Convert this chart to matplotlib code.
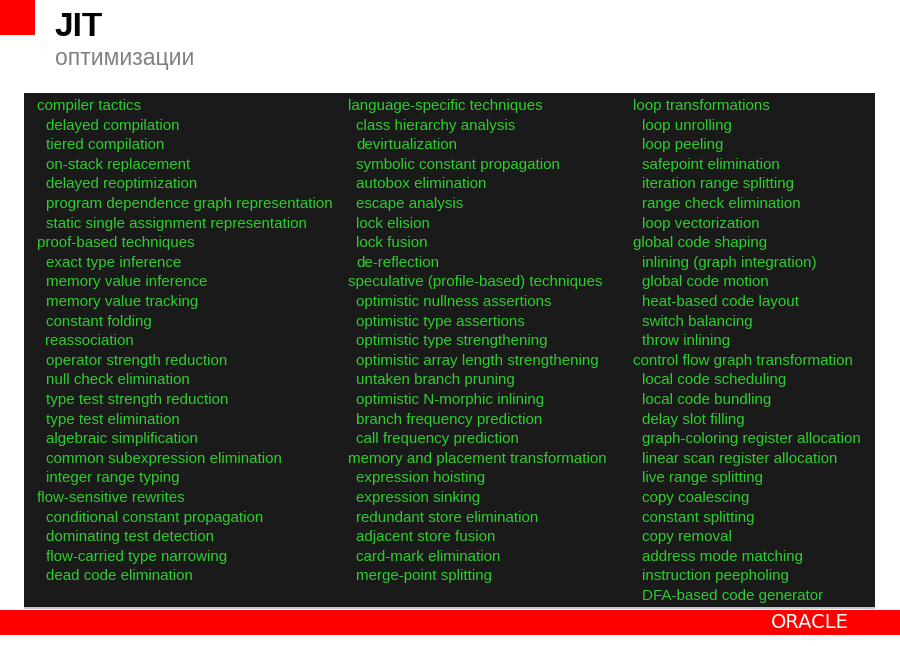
import matplotlib.pyplot as plt
from matplotlib.patches import Rectangle

plt.rcParams['font.family'] = ['Liberation Sans', 'DejaVu Sans']

title = "JIT"
subtitle = "оптимизации"

# (indent level, text) per column
col1 = [
    (0, "compiler tactics"),
    (1, "delayed compilation"),
    (1, "tiered compilation"),
    (1, "on-stack replacement"),
    (1, "delayed reoptimization"),
    (1, "program dependence graph representation"),
    (1, "static single assignment representation"),
    (0, "proof-based techniques"),
    (1, "exact type inference"),
    (1, "memory value inference"),
    (1, "memory value tracking"),
    (1, "constant folding"),
    (1, "reassociation"),
    (1, "operator strength reduction"),
    (1, "null check elimination"),
    (1, "type test strength reduction"),
    (1, "type test elimination"),
    (1, "algebraic simplification"),
    (1, "common subexpression elimination"),
    (1, "integer range typing"),
    (0, "flow-sensitive rewrites"),
    (1, "conditional constant propagation"),
    (1, "dominating test detection"),
    (1, "flow-carried type narrowing"),
    (1, "dead code elimination"),
]
col2 = [
    (0, "language-specific techniques"),
    (1, "class hierarchy analysis"),
    (1, "devirtualization"),
    (1, "symbolic constant propagation"),
    (1, "autobox elimination"),
    (1, "escape analysis"),
    (1, "lock elision"),
    (1, "lock fusion"),
    (1, "de-reflection"),
    (0, "speculative (profile-based) techniques"),
    (1, "optimistic nullness assertions"),
    (1, "optimistic type assertions"),
    (1, "optimistic type strengthening"),
    (1, "optimistic array length strengthening"),
    (1, "untaken branch pruning"),
    (1, "optimistic N-morphic inlining"),
    (1, "branch frequency prediction"),
    (1, "call frequency prediction"),
    (0, "memory and placement transformation"),
    (1, "expression hoisting"),
    (1, "expression sinking"),
    (1, "redundant store elimination"),
    (1, "adjacent store fusion"),
    (1, "card-mark elimination"),
    (1, "merge-point splitting"),
]
col3 = [
    (0, "loop transformations"),
    (1, "loop unrolling"),
    (1, "loop peeling"),
    (1, "safepoint elimination"),
    (1, "iteration range splitting"),
    (1, "range check elimination"),
    (1, "loop vectorization"),
    (0, "global code shaping"),
    (1, "inlining (graph integration)"),
    (1, "global code motion"),
    (1, "heat-based code layout"),
    (1, "switch balancing"),
    (1, "throw inlining"),
    (0, "control flow graph transformation"),
    (1, "local code scheduling"),
    (1, "local code bundling"),
    (1, "delay slot filling"),
    (1, "graph-coloring register allocation"),
    (1, "linear scan register allocation"),
    (1, "live range splitting"),
    (1, "copy coalescing"),
    (1, "constant splitting"),
    (1, "copy removal"),
    (1, "address mode matching"),
    (1, "instruction peepholing"),
    (1, "DFA-based code generator"),
]
columns = [col1, col2, col3]
col_x = [37, 348, 633]

fig = plt.figure(figsize=(9, 6.46), dpi=100)
ax = fig.add_axes([0, 0, 1, 1])
ax.set_xlim(0, 900)
ax.set_ylim(646, 0)
ax.axis('off')

# slide decorations
ax.add_patch(Rectangle((0, 0), 35, 35, color='#ff0000', lw=0))
ax.add_patch(Rectangle((24, 93), 851, 515, color='#1a1a1a', lw=0))
ax.add_patch(Rectangle((24, 607), 851, 2, color='#c8c8c8', lw=0))
ax.add_patch(Rectangle((0, 610), 900, 25, color='#ff0000', lw=0))

ax.text(54, 36, title, fontsize=24, fontweight='bold', color='black', va='baseline')
ax.text(55, 65, subtitle, fontsize=16.5, color='#808080', va='baseline')
ax.text(810, 623, "ORACLE", fontsize=14, color='white', ha='center', va='center',
        family='DejaVu Sans')

green = '#2ecc2e'
step = 19.6
for x0, col in zip(col_x, columns):
    for i, (lvl, txt) in enumerate(col):
        ax.text(x0 + lvl * 8.5, 106 + i * step, txt, fontsize=10.9, color=green,
                va='center', ha='left')

fig.savefig('out.png', dpi=100, facecolor='white')
